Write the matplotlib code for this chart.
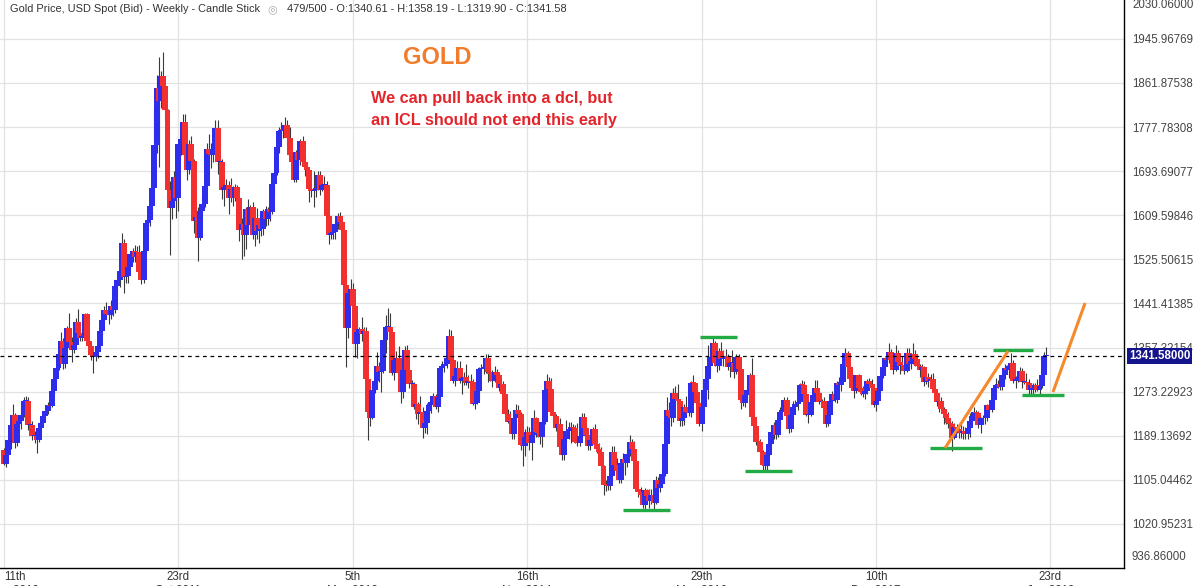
import matplotlib
matplotlib.use("Agg")
import matplotlib.pyplot as plt
from matplotlib.transforms import ScaledTranslation, blended_transform_factory
import numpy as np

# weekly closes, one per candle (week of 11 Apr 2010 ... week of 9 Jun 2019)
close_2010 = [1136, 1153, 1180, 1209, 1228, 1176, 1212, 1218, 1229, 1256, 1256, 1209, 1209,
              1188, 1189, 1181, 1204, 1214, 1227, 1237, 1247, 1246, 1275, 1297, 1318, 1345,
              1369, 1326, 1357, 1394, 1367, 1352, 1362, 1406, 1385, 1376, 1380, 1421]
close_2011 = [1369, 1360, 1343, 1340, 1348, 1360, 1388, 1409, 1429, 1421, 1419, 1436, 1429,
              1474, 1486, 1504, 1556, 1491, 1493, 1511, 1536, 1542, 1530, 1539, 1501, 1486,
              1542, 1594, 1601, 1628, 1662, 1744, 1852, 1828, 1876, 1856, 1811, 1657, 1624,
              1636, 1682, 1642, 1746, 1755, 1788, 1725, 1696, 1746, 1713, 1598, 1606, 1566]
close_2012 = [1617, 1631, 1665, 1735, 1726, 1724, 1735, 1775, 1711, 1711, 1658, 1663, 1668,
              1643, 1659, 1642, 1663, 1643, 1581, 1592, 1571, 1622, 1590, 1626, 1572, 1604,
              1580, 1590, 1584, 1618, 1603, 1621, 1616, 1670, 1691, 1740, 1770, 1773, 1772,
              1781, 1756, 1724, 1712, 1676, 1730, 1714, 1752, 1712, 1701, 1696, 1659, 1656]
close_2013 = [1657, 1662, 1687, 1658, 1667, 1667, 1609, 1572, 1576, 1577, 1592, 1608, 1596,
              1581, 1476, 1395, 1462, 1469, 1436, 1364, 1386, 1392, 1383, 1388, 1297, 1234,
              1223, 1277, 1294, 1322, 1310, 1313, 1371, 1396, 1396, 1386, 1308, 1333, 1338,
              1309, 1272, 1315, 1352, 1315, 1287, 1288, 1244, 1250, 1231, 1235, 1203, 1213]
close_2014 = [1237, 1247, 1254, 1264, 1244, 1262, 1318, 1323, 1326, 1338, 1379, 1334, 1294,
              1303, 1318, 1293, 1300, 1302, 1289, 1293, 1292, 1250, 1252, 1274, 1316, 1316,
              1320, 1337, 1310, 1307, 1294, 1310, 1305, 1280, 1287, 1268, 1231, 1216, 1218,
              1192, 1222, 1239, 1231, 1171, 1169, 1186, 1196, 1175, 1190, 1222, 1196, 1195]
close_2015 = [1186, 1216, 1277, 1293, 1279, 1234, 1227, 1204, 1212, 1167, 1152, 1183, 1199,
              1201, 1206, 1203, 1178, 1176, 1189, 1225, 1204, 1190, 1169, 1180, 1201, 1173,
              1164, 1158, 1131, 1096, 1095, 1094, 1113, 1159, 1134, 1121, 1104, 1138, 1145,
              1137, 1155, 1177, 1163, 1141, 1088, 1081, 1076, 1057, 1085, 1075, 1065, 1076]
close_2016 = [1061, 1104, 1089, 1097, 1116, 1173, 1239, 1226, 1222, 1271, 1259, 1255, 1217,
              1222, 1243, 1234, 1232, 1290, 1289, 1273, 1252, 1212, 1243, 1276, 1298, 1322,
              1339, 1366, 1327, 1322, 1350, 1335, 1336, 1341, 1321, 1327, 1328, 1310, 1339,
              1316, 1257, 1251, 1267, 1276, 1304, 1225, 1207, 1178, 1177, 1159, 1134, 1132, 1152]
close_2017 = [1173, 1196, 1210, 1191, 1220, 1234, 1239, 1257, 1226, 1201, 1229, 1244, 1249,
              1254, 1286, 1285, 1268, 1228, 1228, 1254, 1267, 1280, 1271, 1254, 1256, 1242,
              1212, 1228, 1255, 1269, 1258, 1289, 1285, 1291, 1325, 1346, 1320, 1297, 1280,
              1275, 1304, 1280, 1272, 1269, 1274, 1294, 1288, 1280, 1248, 1256, 1275, 1303]
close_2018 = [1320, 1338, 1333, 1349, 1333, 1315, 1347, 1330, 1323, 1324, 1313, 1347, 1325,
              1332, 1345, 1336, 1323, 1315, 1320, 1291, 1302, 1294, 1298, 1279, 1270, 1253,
              1256, 1241, 1231, 1223, 1214, 1211, 1184, 1206, 1201, 1198, 1194, 1199, 1192,
              1203, 1218, 1227, 1234, 1233, 1209, 1222, 1223, 1222, 1248, 1238, 1257, 1280]
close_2019 = [1285, 1288, 1282, 1304, 1318, 1314, 1322, 1328, 1294, 1298, 1302, 1312, 1292,
              1292, 1290, 1276, 1286, 1280, 1286, 1277, 1284, 1305, 1340.61, 1341.58]
first_open = 1161

# upper shadow (high above body) and lower shadow (low below body), in $
upper_2010 = [5, 6, 2, 1, 21, 5, 6, 8, 14, 7, 9, 6, 10, 8, 10, 7, 6, 5, 5, 4, 6, 8, 4, 4, 3,
              4, 18, 6, 3, 5, 30, 10, 17, 8, 25, 13, 8, 3]
lower_2010 = [3, 6, 5, 16, 5, 10, 6, 4, 16, 4, 20, 9, 14, 8, 13, 24, 4, 10, 4, 8, 6, 6, 3, 6, 8,
              3, 5, 10, 8, 4, 10, 22, 6, 4, 7, 6, 6, 4]
upper_2011 = [3, 9, 8, 8, 10, 7, 3, 8, 8, 16, 15, 11, 11, 1, 10, 2, 20, 8, 25, 3, 3, 6, 10, 12,
              14, 16, 2, 0, 9, 4, 19, 70, 25, 59, 9, 45, 4, 2, 18, 25, 12, 11, 2, 9, 14, 14, 8,
              7, 15, 3, 15, 19]
lower_2011 = [6, 8, 10, 31, 8, 10, 4, 6, 3, 10, 16, 7, 12, 5, 14, 13, 2, 29, 11, 12, 7, 16, 9,
              16, 5, 8, 5, 7, 17, 12, 22, 2, 15, 126, 13, 33, 19, 27, 90, 22, 10, 38, 25, 21,
              15, 17, 20, 8, 20, 22, 15, 43]
upper_2012 = [8, 16, 6, 13, 29, 21, 6, 16, 17, 5, 6, 8, 10, 7, 21, 6, 7, 4, 2, 12, 8, 4, 18, 3,
              8, 2, 20, 4, 8, 4, 10, 4, 6, 2, 2, 3, 7, 15, 9, 15, 11, 21, 7, 9, 4, 8, 3, 8, 9,
              11, 5, 10]
lower_2012 = [3, 4, 6, 4, 15, 25, 12, 8, 23, 28, 17, 31, 9, 32, 9, 15, 6, 6, 20, 54, 40, 25, 10,
              14, 8, 22, 16, 24, 14, 12, 14, 12, 17, 4, 22, 4, 12, 14, 15, 10, 14, 6, 11, 4, 4,
              10, 9, 7, 16, 6, 24, 11]
upper_2013 = [37, 11, 6, 6, 10, 17, 8, 4, 17, 5, 4, 6, 8, 4, 5, 21, 8, 19, 12, 4, 24, 5, 24, 8,
              9, 6, 20, 10, 4, 26, 8, 11, 3, 24, 37, 27, 6, 32, 12, 23, 17, 4, 9, 10, 7, 7, 4,
              13, 4, 30, 9, 12]
lower_2013 = [30, 12, 4, 9, 3, 13, 13, 18, 7, 11, 12, 8, 6, 42, 8, 74, 20, 8, 14, 25, 26, 12,
              13, 9, 27, 54, 16, 2, 7, 11, 18, 37, 4, 25, 4, 8, 4, 12, 22, 4, 21, 11, 8, 4, 6,
              17, 4, 23, 20, 8, 18, 8]
upper_2014 = [14, 2, 2, 6, 4, 7, 0, 9, 6, 14, 13, 12, 8, 7, 13, 13, 4, 8, 24, 12, 14, 6, 6, 1,
              5, 9, 7, 8, 8, 10, 7, 13, 7, 3, 7, 6, 5, 9, 18, 2, 3, 10, 8, 4, 7, 15, 12, 10, 31,
              16, 3, 9]
lower_2014 = [20, 13, 14, 3, 4, 10, 10, 9, 13, 7, 4, 4, 4, 11, 7, 4, 25, 15, 3, 8, 8, 3, 10, 3,
              15, 10, 10, 11, 18, 13, 12, 3, 11, 6, 7, 6, 2, 2, 9, 9, 9, 5, 5, 10, 38, 19, 11,
              13, 33, 2, 10, 8]
upper_2015 = [15, 7, 6, 14, 8, 21, 16, 3, 12, 10, 8, 6, 21, 14, 10, 6, 6, 36, 8, 7, 7, 8, 6, 12,
              4, 11, 10, 12, 9, 2, 8, 7, 13, 10, 10, 12, 4, 3, 11, 6, 9, 14, 6, 16, 2, 10, 10,
              5, 5, 3, 13, 12]
lower_2015 = [13, 18, 4, 15, 18, 2, 11, 6, 14, 4, 9, 9, 6, 16, 25, 13, 3, 6, 7, 2, 4, 5, 7, 7,
              6, 3, 8, 11, 2, 19, 11, 9, 9, 5, 16, 2, 6, 6, 14, 23, 7, 5, 5, 4, 3, 8, 14, 5, 11,
              3, 14, 6]
upper_2016 = [6, 9, 7, 14, 11, 4, 24, 14, 30, 9, 12, 28, 3, 23, 6, 22, 28, 4, 15, 2, 8, 5, 1, 8,
              17, 40, 20, 9, 4, 11, 6, 18, 17, 14, 4, 5, 24, 4, 5, 5, 4, 8, 7, 7, 4, 33, 10, 14,
              10, 6, 2, 7, 8]
lower_2016 = [15, 3, 6, 8, 4, 4, 2, 26, 14, 6, 11, 22, 10, 10, 12, 6, 6, 8, 22, 10, 8, 4, 13, 6,
              3, 38, 11, 9, 5, 12, 8, 5, 13, 6, 7, 19, 10, 10, 3, 8, 16, 6, 8, 4, 4, 6, 7, 7, 16,
              8, 10, 8, 9]
upper_2017 = [8, 11, 6, 10, 6, 10, 6, 6, 6, 3, 5, 12, 8, 19, 3, 10, 8, 3, 8, 4, 5, 15, 16, 6, 4,
              6, 3, 5, 3, 5, 13, 4, 12, 8, 1, 11, 5, 6, 12, 4, 1, 2, 11, 12, 13, 3, 6, 10, 4, 4,
              3, 1]
lower_2017 = [2, 7, 14, 8, 4, 13, 9, 5, 10, 7, 4, 10, 9, 10, 3, 9, 6, 2, 14, 2, 8, 6, 4, 4, 11,
              6, 7, 4, 8, 8, 4, 7, 11, 11, 3, 4, 5, 9, 4, 14, 4, 6, 6, 6, 10, 5, 4, 7, 4, 12, 4,
              2]
upper_2018 = [6, 2, 10, 17, 6, 8, 15, 6, 6, 17, 8, 9, 9, 14, 20, 8, 3, 3, 6, 3, 5, 6, 9, 11, 6,
              2, 8, 6, 3, 10, 11, 6, 6, 8, 6, 5, 14, 9, 6, 7, 15, 6, 10, 4, 4, 3, 5, 4, 2, 2, 4,
              4]
lower_2018 = [4, 12, 6, 6, 2, 8, 3, 5, 16, 9, 6, 3, 4, 8, 6, 14, 7, 13, 6, 8, 4, 12, 4, 5, 8, 8,
              18, 3, 20, 12, 10, 7, 24, 2, 7, 14, 9, 11, 10, 9, 17, 7, 8, 21, 5, 14, 10, 11, 5,
              4, 4, 3]
upper_2019 = [14, 7, 13, 1, 8, 6, 3, 18, 6, 5, 8, 8, 6, 8, 16, 8, 2, 3, 4, 12, 3, 2, 8, 16.61]
lower_2019 = [7, 5, 6, 5, 6, 8, 14, 6, 4, 13, 7, 8, 11, 5, 4, 10, 10, 14, 8, 3, 8, 4, 10, 20.71]

tick_pos = [0, 80, 160, 240, 320, 400, 480]
tick_labels = ["11th\nApr 2010", "23rd\nOct 2011", "5th\nMay 2013", "16th\nNov 2014",
               "29th\nMay 2016", "10th\nDec 2017", "23rd\nJun 2019"]
price_ticks = [936.86, 1020.95231, 1105.04462, 1189.13692, 1273.22923, 1357.32154,
               1441.41385, 1525.50615, 1609.59846, 1693.69077, 1777.78308, 1861.87538,
               1945.96769, 2030.06]
last_price = 1341.58

# cycle markings drawn on the chart: (x0, x1, price) and (x0, y0, x1, y1)
green_marks = [(283.9, 305.5, 1047.4), (319.3, 336.2, 1377.4), (339.9, 361.5, 1121.3),
               (424.8, 448.6, 1165.1), (453.7, 472.0, 1352.6), (467.0, 486.2, 1266.2)]
orange_marks = [(431.7, 1165.7, 460.6, 1350.7), (481.2, 1272.5, 495.9, 1442.2)]

closes = np.array(close_2010 + close_2011 + close_2012 + close_2013 + close_2014 +
                  close_2015 + close_2016 + close_2017 + close_2018 + close_2019, float)
upper = np.array(upper_2010 + upper_2011 + upper_2012 + upper_2013 + upper_2014 +
                 upper_2015 + upper_2016 + upper_2017 + upper_2018 + upper_2019, float)
lower = np.array(lower_2010 + lower_2011 + lower_2012 + lower_2013 + lower_2014 +
                 lower_2015 + lower_2016 + lower_2017 + lower_2018 + lower_2019, float)
opens = np.concatenate([[first_open], closes[:-1]])
highs = np.maximum(opens, closes) + upper
lows = np.minimum(opens, closes) - lower
idx = np.arange(len(closes))

W, H = 1196, 586
fig = plt.figure(figsize=(W / 100, H / 100), dpi=100)
ax = fig.add_axes([0, 18 / H, 1124 / W, 568 / H])
ax.set_xlim(-4 / 2.18, 1120 / 2.18)
ax.set_ylim(936.86, 2020.0)

for s in ["left", "top"]:
    ax.spines[s].set_visible(False)
for s in ["right", "bottom"]:
    ax.spines[s].set_color("black")
    ax.spines[s].set_linewidth(1.0)

font = "Liberation Sans"
ax.yaxis.tick_right()
ax.set_yticks(price_ticks[1:-1])
ax.set_yticklabels(["%.5f" % p for p in price_ticks[1:-1]])
ax.set_xticks(tick_pos)
ax.set_xticklabels(tick_labels)
ax.tick_params(axis="y", length=0, pad=6, labelsize=8.3, labelcolor="#444444")
ax.tick_params(axis="x", length=0, pad=2, labelsize=8.3, labelcolor="#333333")
for lab in ax.get_xticklabels() + ax.get_yticklabels():
    lab.set_fontfamily(font)
# the first date label is nudged right so it stays on the canvas
first = ax.get_xticklabels()[0]
first.set_transform(first.get_transform() + ScaledTranslation(8 / 72, 0, fig.dpi_scale_trans))
ax.grid(True, color="#e2e2e2", lw=0.9, zorder=0)
ax.set_axisbelow(True)

# labels for the outermost scale values, held inside the chart height
fig.text(1132 / W, 1 - 5 / H, "%.5f" % price_ticks[-1], fontsize=8.3, color="#444444",
         family=font, va="center")
fig.text(1132 / W, 1 - 557 / H, "%.5f" % price_ticks[0], fontsize=8.3, color="#444444",
         family=font, va="center")

# candles
up = closes >= opens
colors = np.where(up, "#2d2deb", "#f23030")
ax.vlines(idx, lows, highs, color="#3a3a3a", lw=0.8, zorder=2)
ax.bar(idx, np.maximum(np.abs(closes - opens), 1.8), bottom=np.minimum(opens, closes),
       width=2.75, color=colors, linewidth=0, zorder=3)

# last price
ax.axhline(last_price, color="black", lw=0.9, ls=(0, (3, 3)), zorder=4)
tr = blended_transform_factory(ax.transAxes, ax.transData)
ax.text(1 + 5 / 1124, last_price, "%.5f" % last_price, transform=tr, ha="left", va="center",
        fontsize=8.3, color="white", fontweight="bold", family=font, clip_on=False, zorder=10,
        bbox=dict(boxstyle="square,pad=0.18", fc="#14148c", ec="none"))

for x0, x1, p in green_marks:
    ax.plot([x0, x1], [p, p], color="#22aa44", lw=2.4, solid_capstyle="butt", zorder=5)
for x0, y0, x1, y1 in orange_marks:
    ax.plot([x0, x1], [y0, y1], color="#f5892c", lw=2.2, solid_capstyle="butt", zorder=5)

fig.text(437 / W, 1 - 58 / H, "GOLD", fontsize=17, color="#f07c2c", fontweight="bold",
         family=font, ha="center", va="center")
fig.text(371 / W, 1 - 98 / H, "We can pull back into a dcl, but", fontsize=11.7,
         color="#e3242b", fontweight="bold", family=font, ha="left", va="center")
fig.text(371 / W, 1 - 121 / H, "an ICL should not end this early", fontsize=11.7,
         color="#e3242b", fontweight="bold", family=font, ha="left", va="center")

# header line
fig.text(10 / W, 1 - 9 / H, "Gold Price, USD Spot (Bid) - Weekly - Candle Stick", fontsize=7.9,
         color="#333333", family=font, va="center")
fig.text(272 / W, 1 - 9 / H, "\u25ce", fontsize=8, color="#aaaaaa", family="DejaVu Sans",
         ha="center", va="center")
fig.text(287 / W, 1 - 9 / H, "479/500 - O:1340.61 - H:1358.19 - L:1319.90 - C:1341.58",
         fontsize=7.9, color="#333333", family=font, va="center")

fig.savefig("out.png", dpi=100)
